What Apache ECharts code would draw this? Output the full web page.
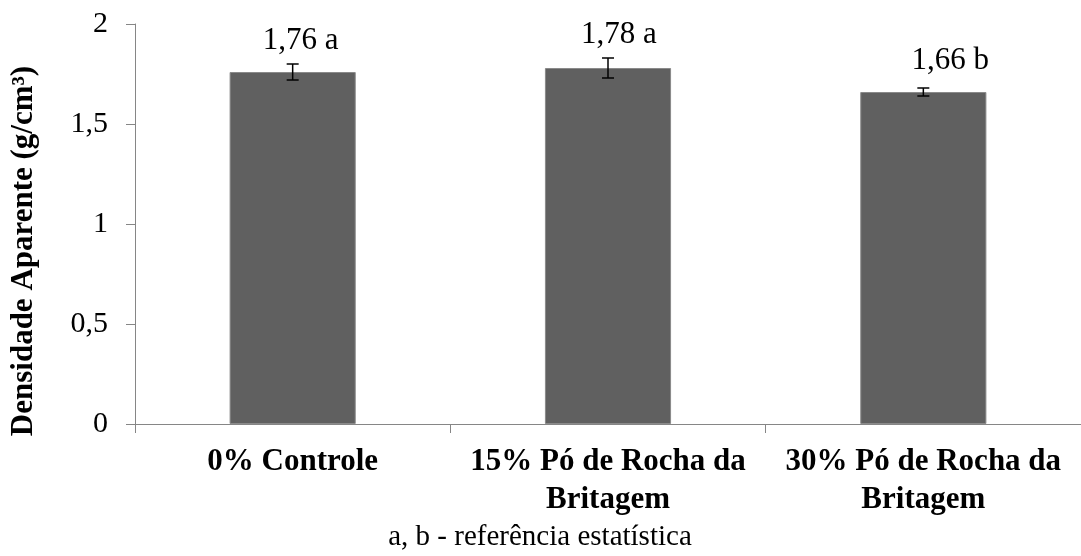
<!DOCTYPE html>
<html>
<head>
<meta charset="utf-8">
<script src="https://cdn.jsdelivr.net/npm/echarts@6/dist/echarts.min.js"></script>
<style>
  html, body { margin: 0; padding: 0; background: #fff; }
  #chart { width: 1081px; height: 556px; }
</style>
</head>
<body>
<div id="chart"></div>
<script>
// Treatments (axis labels), bulk density means, standard deviations and statistical letters
const categories = ['0% Controle', '15% Pó de Rocha da\nBritagem', '30% Pó de Rocha da\nBritagem'];
const density = [1.76, 1.78, 1.66];
const deviation = [0.04, 0.05, 0.02];
const letters = ['a', 'a', 'b'];
const yTicks = [0, 0.5, 1, 1.5, 2];

// Hand-placed label offsets in pixels
const labelShift = [[8, -16], [11, -18], [27, -16]];

const FONT = 'Liberation Serif, Times New Roman, serif';
const fmt = v => String(v).replace('.', ',');

const chart = echarts.init(document.getElementById('chart'), null, { renderer: 'canvas' });

chart.setOption({
  animation: false,
  grid: { left: 135, right: 0, top: 24, bottom: 132 },
  xAxis: {
    type: 'category',
    data: categories,
    axisLine: { lineStyle: { color: '#868686', width: 1 } },
    axisTick: { show: true, length: 9, alignWithLabel: false, lineStyle: { color: '#868686' } },
    axisLabel: {
      interval: 0, margin: 19, color: '#000',
      fontFamily: FONT, fontSize: 31, fontWeight: 'bold', lineHeight: 38
    }
  },
  yAxis: {
    type: 'value',
    min: yTicks[0], max: yTicks[yTicks.length - 1], interval: 0.5,
    splitLine: { show: false },
    axisLine: { show: true, lineStyle: { color: '#868686', width: 1 } },
    axisTick: { show: true, length: 9, lineStyle: { color: '#868686' } },
    axisLabel: {
      margin: 27, color: '#000', fontFamily: FONT, fontSize: 30,
      formatter: v => fmt(v)
    }
  },
  series: [
    {
      type: 'bar',
      barWidth: '40%',
      data: density.map((v, i) => ({
        value: v,
        label: { offset: labelShift[i] }
      })),
      itemStyle: { color: '#606060', borderColor: '#8a8a8a', borderWidth: 1 },
      label: {
        show: true, position: 'top', distance: 0,
        color: '#000', fontFamily: FONT, fontSize: 31, lineHeight: 31,
        formatter: p => fmt(density[p.dataIndex].toFixed(2)) + ' ' + letters[p.dataIndex]
      },
      z: 2
    },
    {
      // Standard-deviation whiskers
      type: 'custom',
      data: density.map((v, i) => [i, v - deviation[i], v + deviation[i]]),
      renderItem: (params, api) => {
        const x = api.coord([api.value(0), 0])[0];
        const lo = api.coord([api.value(0), api.value(1)])[1];
        const hi = api.coord([api.value(0), api.value(2)])[1];
        const half = 6;
        const style = { stroke: '#000', lineWidth: 1.5 };
        return {
          type: 'group',
          children: [
            { type: 'line', shape: { x1: x, y1: lo, x2: x, y2: hi }, style },
            { type: 'line', shape: { x1: x - half, y1: lo, x2: x + half, y2: lo }, style },
            { type: 'line', shape: { x1: x - half, y1: hi, x2: x + half, y2: hi }, style }
          ]
        };
      },
      z: 5
    }
  ],
  graphic: [
    {
      type: 'text', x: 24, y: 251, rotation: Math.PI / 2,
      style: {
        text: 'Densidade Aparente (g/cm³)', fill: '#000',
        font: 'bold 31px ' + FONT, textAlign: 'center', textVerticalAlign: 'middle'
      }
    },
    {
      type: 'text', x: 540, y: 537,
      style: {
        text: 'a, b - referência estatística', fill: '#000',
        font: '29px ' + FONT, textAlign: 'center', textVerticalAlign: 'middle'
      }
    }
  ]
});
</script>
</body>
</html>
